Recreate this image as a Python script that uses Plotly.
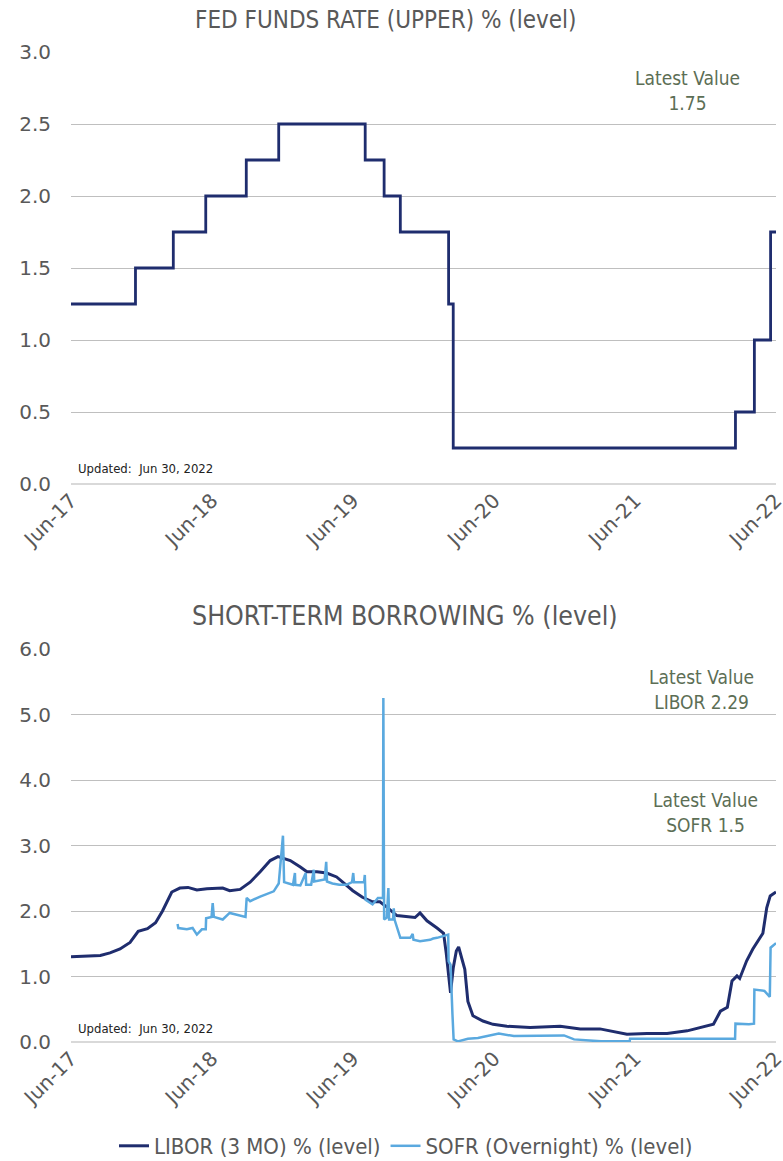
import plotly.graph_objects as go

# ---- Fed funds rate (upper bound), step series ----
ff_dates = ["2017-06-30", "2017-12-14", "2018-03-22", "2018-06-14", "2018-09-27",
            "2018-12-20", "2019-08-01", "2019-09-19", "2019-10-31", "2020-03-04",
            "2020-03-16", "2022-03-17", "2022-05-05", "2022-06-16", "2022-06-30"]
ff_values = [1.25, 1.50, 1.75, 2.00, 2.25, 2.50, 2.25, 2.00, 1.75, 1.25,
             0.25, 0.50, 1.00, 1.75, 1.75]

# ---- LIBOR 3M ----
libor_dates = ["2017-06-30", "2017-08-10", "2017-09-14", "2017-10-09", "2017-11-04", "2017-11-30",
               "2017-12-21", "2018-01-14", "2018-02-04", "2018-02-22", "2018-03-05", "2018-03-18",
               "2018-04-08", "2018-04-29", "2018-05-22", "2018-06-17", "2018-07-28", "2018-08-15",
               "2018-09-11", "2018-10-07", "2018-11-02", "2018-11-28", "2018-12-18", "2019-01-19",
               "2019-02-14", "2019-03-03", "2019-03-29", "2019-04-23", "2019-05-19", "2019-06-04",
               "2019-06-30", "2019-07-25", "2019-08-20", "2019-09-08", "2019-09-26", "2019-10-22",
               "2019-11-17", "2019-12-08", "2019-12-21", "2020-01-08", "2020-02-03", "2020-02-20",
               "2020-02-27", "2020-03-04", "2020-03-09", "2020-03-16", "2020-03-24", "2020-03-30",
               "2020-04-06", "2020-04-15", "2020-04-23", "2020-05-06", "2020-06-01", "2020-06-27",
               "2020-08-02", "2020-10-01", "2020-12-18", "2021-02-08", "2021-03-31", "2021-05-21",
               "2021-06-09", "2021-07-31", "2021-09-21", "2021-11-12", "2021-12-16", "2022-01-19",
               "2022-02-06", "2022-02-24", "2022-03-08", "2022-03-21", "2022-03-28", "2022-04-15",
               "2022-05-01", "2022-05-27", "2022-06-06", "2022-06-15", "2022-06-30"]
libor_values = [1.30, 1.31, 1.32, 1.36, 1.42, 1.52,
                1.69, 1.73, 1.82, 2.00, 2.13, 2.29,
                2.35, 2.36, 2.32, 2.34, 2.35, 2.31,
                2.33, 2.44, 2.60, 2.77, 2.83, 2.77,
                2.67, 2.60, 2.60, 2.58, 2.52, 2.44,
                2.31, 2.21, 2.14, 2.14, 2.06, 1.93,
                1.91, 1.90, 1.97, 1.85, 1.74, 1.66,
                1.35, 1.00, 0.75, 1.13, 1.39, 1.45,
                1.28, 1.11, 0.62, 0.40, 0.32, 0.27,
                0.24, 0.22, 0.24, 0.20, 0.20, 0.15,
                0.12, 0.13, 0.13, 0.17, 0.22, 0.27,
                0.47, 0.53, 0.93, 1.01, 0.97, 1.24,
                1.42, 1.66, 2.05, 2.23, 2.29]

# ---- SOFR overnight ----
sofr_dates = ["2018-04-02", "2018-04-04", "2018-04-26", "2018-05-11", "2018-05-22", "2018-06-04",
              "2018-06-14", "2018-06-15", "2018-06-29", "2018-07-02", "2018-07-05", "2018-07-28",
              "2018-08-15", "2018-09-25", "2018-09-28", "2018-10-07", "2018-11-02", "2018-12-07",
              "2018-12-20", "2018-12-31", "2019-01-03", "2019-01-26", "2019-01-31", "2019-02-01",
              "2019-02-14", "2019-02-28", "2019-03-01", "2019-03-14", "2019-03-21", "2019-03-22",
              "2019-04-18", "2019-04-22", "2019-04-24", "2019-05-08", "2019-05-26", "2019-06-13",
              "2019-06-28", "2019-07-01", "2019-07-03", "2019-07-29", "2019-07-31", "2019-08-02",
              "2019-08-20", "2019-09-03", "2019-09-16", "2019-09-17", "2019-09-19", "2019-09-26",
              "2019-09-30", "2019-10-02", "2019-10-12", "2019-10-14", "2019-10-16", "2019-10-31",
              "2019-11-26", "2019-12-02", "2019-12-04", "2019-12-21", "2020-01-16", "2020-01-24",
              "2020-02-03", "2020-03-03", "2020-03-04", "2020-03-09", "2020-03-14", "2020-03-17",
              "2020-03-28", "2020-04-23", "2020-05-19", "2020-06-14", "2020-07-12", "2020-08-20",
              "2020-10-03", "2020-11-16", "2020-12-28", "2021-01-23", "2021-03-01", "2021-04-03",
              "2021-05-25", "2021-06-16", "2021-06-17", "2021-10-22", "2022-03-16", "2022-03-17",
              "2022-04-21", "2022-05-04", "2022-05-05", "2022-05-31", "2022-06-14", "2022-06-16",
              "2022-06-30"]
sofr_values = [1.80, 1.74, 1.72, 1.74, 1.64, 1.72,
               1.72, 1.89, 1.91, 2.12, 1.91, 1.87,
               1.97, 1.91, 2.20, 2.15, 2.22, 2.30,
               2.42, 3.15, 2.44, 2.40, 2.58, 2.40,
               2.39, 2.58, 2.40, 2.40, 2.63, 2.45,
               2.48, 2.75, 2.45, 2.42, 2.40, 2.40,
               2.44, 2.58, 2.44, 2.44, 2.55, 2.17,
               2.10, 2.20, 2.20, 5.25, 1.87, 1.90,
               2.35, 1.87, 1.87, 2.04, 1.87, 1.59,
               1.59, 1.65, 1.56, 1.54, 1.56, 1.58,
               1.59, 1.64, 1.23, 1.18, 0.42, 0.04,
               0.01, 0.05, 0.06, 0.09, 0.13, 0.09,
               0.09, 0.09, 0.10, 0.04, 0.02, 0.01,
               0.01, 0.01, 0.05, 0.05, 0.05, 0.28,
               0.27, 0.28, 0.80, 0.78, 0.69, 1.44,
               1.51]

# ---- axis ticks ----
x_tick_vals = ["2017-06-30", "2018-06-30", "2019-06-30", "2020-06-30", "2021-06-30", "2022-06-30"]
x_tick_text = ["Jun-17", "Jun-18", "Jun-19", "Jun-20", "Jun-21", "Jun-22"]

# the page's body margin is removed by a post script, so figure pixels = page pixels
OFF = 0
W, H = 783, 1161
NAVY = "#1f2d6e"
SKY = "#5aa9df"
GRID = "#bfbfbf"
TICK = "#595959"
NOTE = "#5c6e55"
COND = "Liberation Sans Narrow, DejaVu Sans Condensed, Arial Narrow, sans-serif"
TICKFONT = "DejaVu Sans, Verdana, sans-serif"

def py(p):
    return 1 - (p - OFF) / H

def px(p):
    return (p - OFF) / W

fig = go.Figure()
fig.add_trace(go.Scatter(x=ff_dates, y=ff_values, mode="lines", line=dict(color=NAVY, width=2.8, shape="hv"),
                         showlegend=False, xaxis="x", yaxis="y"))
fig.add_trace(go.Scatter(x=libor_dates, y=libor_values, mode="lines", name="LIBOR (3 MO) % (level)",
                         line=dict(color=NAVY, width=3), xaxis="x2", yaxis="y2"))
fig.add_trace(go.Scatter(x=sofr_dates, y=sofr_values, mode="lines", name="SOFR (Overnight) % (level)",
                         line=dict(color=SKY, width=2.5), xaxis="x2", yaxis="y2"))

xdom = [px(71), px(776)]
xcommon = dict(type="date", range=["2017-06-30", "2022-06-30"], tickvals=x_tick_vals, ticktext=x_tick_text,
               tickangle=-45, showgrid=False, zeroline=False, showline=False, ticks="",
               ticklabeloverflow="allow",
               tickfont=dict(family=TICKFONT, size=20, color=TICK), domain=xdom, automargin=False)
ycommon = dict(showgrid=True, gridcolor=GRID, gridwidth=1, zeroline=True, zerolinecolor="#d9d9d9",
               zerolinewidth=1.5, showline=False, ticks="", tickformat=".1f",
               tickfont=dict(family=TICKFONT, size=20, color=TICK), automargin=False, ticklabelstandoff=19)

fig.update_layout(
    width=W, height=H,
    margin=dict(l=0, r=0, t=0, b=0, autoexpand=False),
    paper_bgcolor="white", plot_bgcolor="white",
    xaxis=dict(**xcommon, anchor="y"),
    yaxis=dict(**ycommon, range=[0, 3], dtick=0.5, domain=[py(484), py(52)], anchor="x"),
    xaxis2=dict(**xcommon, anchor="y2"),
    yaxis2=dict(**ycommon, range=[0, 6], dtick=1, domain=[py(1042), py(649)], anchor="x2"),
    showlegend=True,
    legend=dict(orientation="h", x=px(406), xanchor="center", y=py(1146), yanchor="middle",
                font=dict(family=COND, size=22, color=TICK), itemwidth=30, tracegroupgap=0,
                bgcolor="rgba(0,0,0,0)"),
)

annots = [
    dict(text="FED FUNDS RATE (UPPER) % (level)", x=px(386), y=py(4), yanchor="top",
         font=dict(family=COND, size=24, color=TICK)),
    dict(text="SHORT-TERM BORROWING % (level)", x=px(405), y=py(615), yanchor="middle",
         font=dict(family=COND, size=26.5, color=TICK)),
    dict(text="Latest Value<br>1.75", x=px(687), y=py(90), yanchor="middle", font=dict(family=COND, size=19, color=NOTE)),
    dict(text="Latest Value<br>LIBOR 2.29", x=px(701), y=py(689), yanchor="middle", font=dict(family=COND, size=19, color=NOTE)),
    dict(text="Latest Value<br>SOFR 1.5", x=px(705), y=py(812), yanchor="middle", font=dict(family=COND, size=19, color=NOTE)),
]
for a in annots:
    fig.add_annotation(xref="paper", yref="paper", showarrow=False, xanchor="center", **a)
for yy in (468, 1028):
    fig.add_annotation(xref="paper", yref="paper", showarrow=False, xanchor="left", yanchor="middle",
                       x=px(76), y=py(yy), text="Updated:  Jun 30, 2022",
                       font=dict(family=COND, size=13, color="#222222"))

fig.write_html("out.html", config={"displayModeBar": False},
               post_script="document.body.style.margin='0';document.body.style.overflow='hidden';")
